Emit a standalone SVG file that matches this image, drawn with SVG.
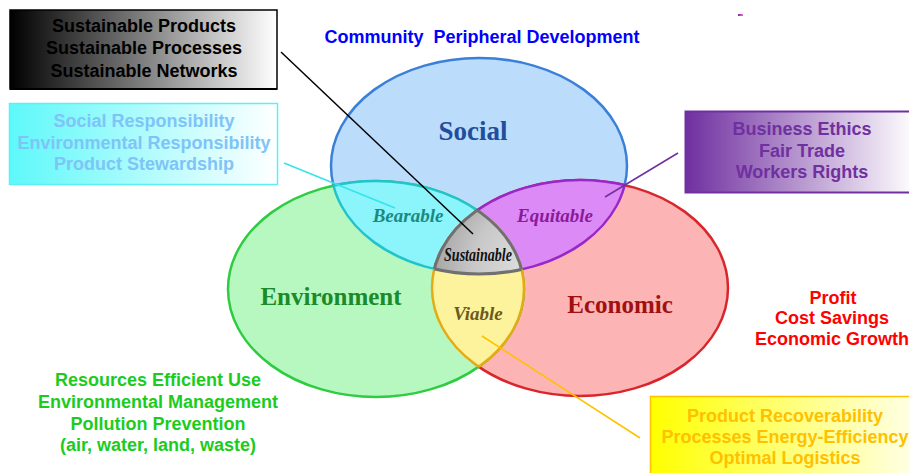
<svg xmlns="http://www.w3.org/2000/svg" width="909" height="473" viewBox="0 0 909 473">
<style>
.box{font-family:"Liberation Sans",Arial,sans-serif;font-weight:bold;font-size:18px;text-anchor:middle}
.lbl{font-family:"Liberation Serif","Times New Roman",serif;font-weight:bold;text-anchor:middle}
.it{font-style:italic;font-size:19px}
.conn{fill:none}
</style>
<defs>
<linearGradient id="gBlack" x1="0" y1="0" x2="1" y2="0"><stop offset="0" stop-color="#000"/><stop offset="1" stop-color="#fff"/></linearGradient>
<linearGradient id="gCyan" x1="0" y1="0" x2="1" y2="0"><stop offset="0" stop-color="#5ef8fa"/><stop offset="1" stop-color="#fff"/></linearGradient>
<linearGradient id="gPurple" x1="0" y1="0" x2="1" y2="0"><stop offset="0" stop-color="#7030a0"/><stop offset="1" stop-color="#fff"/></linearGradient>
<linearGradient id="gYellow" x1="0" y1="0" x2="1" y2="0"><stop offset="0" stop-color="#ffff00"/><stop offset="1" stop-color="#ffffe8"/></linearGradient>
<linearGradient id="gMark" x1="0" y1="0" x2="1" y2="0"><stop offset="0" stop-color="#7030a0"/><stop offset="1" stop-color="#ff66cc"/></linearGradient>
<radialGradient id="gGray" cx="0.5" cy="0.4" r="0.6"><stop offset="0" stop-color="#f4f4f4"/><stop offset="0.6" stop-color="#c8c8c8"/><stop offset="1" stop-color="#8c8c8c"/></radialGradient>
<clipPath id="cS"><ellipse cx="479" cy="166" rx="148" ry="108"/></clipPath>
<clipPath id="cEn"><ellipse cx="376" cy="289" rx="148" ry="108"/></clipPath>
<clipPath id="cEc"><ellipse cx="580" cy="288" rx="148" ry="108"/></clipPath>
</defs>
<rect width="909" height="473" fill="#fff"/>

<g id="venn">
<g id="social"><ellipse cx="479" cy="166" rx="148" ry="108" fill="#bcdcfb" stroke="#3a80d8" stroke-width="2.5"/></g>
<g id="economic"><ellipse cx="580" cy="288" rx="148" ry="108" fill="#fcb4b4" stroke="#d9262c" stroke-width="2.5"/></g>
<g id="environment"><ellipse cx="376" cy="289" rx="148" ry="108" fill="#b6f8c0" stroke="#2ecc40" stroke-width="2.5"/></g>
<g id="bearable">
<g clip-path="url(#cS)"><ellipse cx="376" cy="289" rx="148" ry="108" fill="#8cf4fb" stroke="#22c4cc" stroke-width="2.5"/></g>
<g clip-path="url(#cEn)"><ellipse cx="479" cy="166" rx="148" ry="108" fill="none" stroke="#22c4cc" stroke-width="2.5"/></g>
</g>
<g id="equitable">
<g clip-path="url(#cS)"><ellipse cx="580" cy="288" rx="148" ry="108" fill="#dc8af6" stroke="#9a28c8" stroke-width="2.5"/></g>
<g clip-path="url(#cEc)"><ellipse cx="479" cy="166" rx="148" ry="108" fill="none" stroke="#9a28c8" stroke-width="2.5"/></g>
</g>
<g id="viable">
<g clip-path="url(#cEn)"><ellipse cx="580" cy="288" rx="148" ry="108" fill="#fdf39c" stroke="#e6aa14" stroke-width="2.5"/></g>
<g clip-path="url(#cEc)"><ellipse cx="376" cy="289" rx="148" ry="108" fill="none" stroke="#e6aa14" stroke-width="2.5"/></g>
</g>
<g id="sustainable">
<g clip-path="url(#cS)"><g clip-path="url(#cEn)"><ellipse cx="580" cy="288" rx="148" ry="108" fill="url(#gGray)" stroke="#707070" stroke-width="3"/></g></g>
<g clip-path="url(#cEc)"><g clip-path="url(#cEn)"><ellipse cx="479" cy="166" rx="148" ry="108" fill="none" stroke="#707070" stroke-width="3"/></g></g>
<g clip-path="url(#cS)"><g clip-path="url(#cEc)"><ellipse cx="376" cy="289" rx="148" ry="108" fill="none" stroke="#707070" stroke-width="3"/></g></g>
</g>
<text class="lbl" x="473" y="140" font-size="27" fill="#1f4e9c">Social</text>
<text class="lbl" x="331" y="305" font-size="25" fill="#1a8a2a">Environment</text>
<text class="lbl" x="620" y="313" font-size="25" fill="#a01010">Economic</text>
<text class="lbl it" x="408" y="222" fill="#1a8a80">Bearable</text>
<text class="lbl it" x="555" y="222" fill="#8a1a9a">Equitable</text>
<text class="lbl it" x="478" y="320" fill="#6b5a1e">Viable</text>
<text class="lbl" x="478" y="261" font-size="18" font-style="italic" font-weight="normal" fill="#111" textLength="68" lengthAdjust="spacingAndGlyphs">Sustainable</text>
</g>

<g id="connectors">
<line class="conn" x1="281" y1="52" x2="473" y2="234" stroke="#000" stroke-width="1.5"/>
<line class="conn" x1="284" y1="163" x2="395" y2="208" stroke="#33e4ec" stroke-width="1.5"/>
<line class="conn" x1="678" y1="153" x2="605" y2="197" stroke="#7030a0" stroke-width="1.5"/>
<line class="conn" x1="482" y1="336" x2="640" y2="438" stroke="#ffc000" stroke-width="1.5"/>
</g>

<g id="box-sustainable">
<rect x="10" y="10" width="267" height="79" fill="url(#gBlack)" stroke="#000" stroke-width="1.5"/>
<line x1="10" y1="89" x2="277" y2="89" stroke="#000" stroke-width="2"/>
<text class="box" x="144" y="32" fill="#000">Sustainable Products</text>
<text class="box" x="144" y="54" fill="#000">Sustainable Processes</text>
<text class="box" x="144" y="77" fill="#000">Sustainable Networks</text>
</g>

<g id="box-social">
<rect x="9.5" y="103.5" width="268" height="81" fill="url(#gCyan)" stroke="#5ef0f4" stroke-width="1.5"/>
<text class="box" x="144" y="127" fill="#7ec4f8">Social Responsibility</text>
<text class="box" x="144" y="149" fill="#7ec4f8">Environmental Responsibility</text>
<text class="box" x="144" y="170" fill="#7ec4f8">Product Stewardship</text>
</g>

<g id="box-business">
<rect x="685.5" y="111.5" width="230" height="81" fill="url(#gPurple)" stroke="#7030a0" stroke-width="2"/>
<text class="box" x="802" y="135" fill="#7030a0">Business Ethics</text>
<text class="box" x="802" y="157" fill="#7030a0">Fair Trade</text>
<text class="box" x="802" y="178" fill="#7030a0">Workers Rights</text>
</g>

<g id="box-product">
<rect x="650.5" y="396.5" width="265" height="85" fill="url(#gYellow)" stroke="#ffc000" stroke-width="1.5"/>
<text class="box" x="785" y="422" fill="#ffc000">Product Recoverability</text>
<text class="box" x="785" y="443" fill="#ffc000">Processes Energy-Efficiency</text>
<text class="box" x="785" y="464" fill="#ffc000">Optimal Logistics</text>
</g>

<g id="community">
<text class="box" x="482" y="43" fill="#0000ff" font-size="17" xml:space="preserve">Community  Peripheral Development</text>
</g>

<g id="environment-text">
<text class="box" x="158" y="386" fill="#1ccc1c">Resources Efficient Use</text>
<text class="box" x="158" y="408" fill="#1ccc1c">Environmental Management</text>
<text class="box" x="158" y="430" fill="#1ccc1c">Pollution Prevention</text>
<text class="box" x="158" y="451" fill="#1ccc1c" font-size="17">(air, water, land, waste)</text>
</g>

<g id="economic-text">
<text class="box" x="833" y="304" fill="#ff0000">Profit</text>
<text class="box" x="832" y="324" fill="#ff0000">Cost Savings</text>
<text class="box" x="832" y="345" fill="#ff0000">Economic Growth</text>
</g>

<rect x="738" y="14" width="5" height="2" fill="url(#gMark)"/>
</svg>
